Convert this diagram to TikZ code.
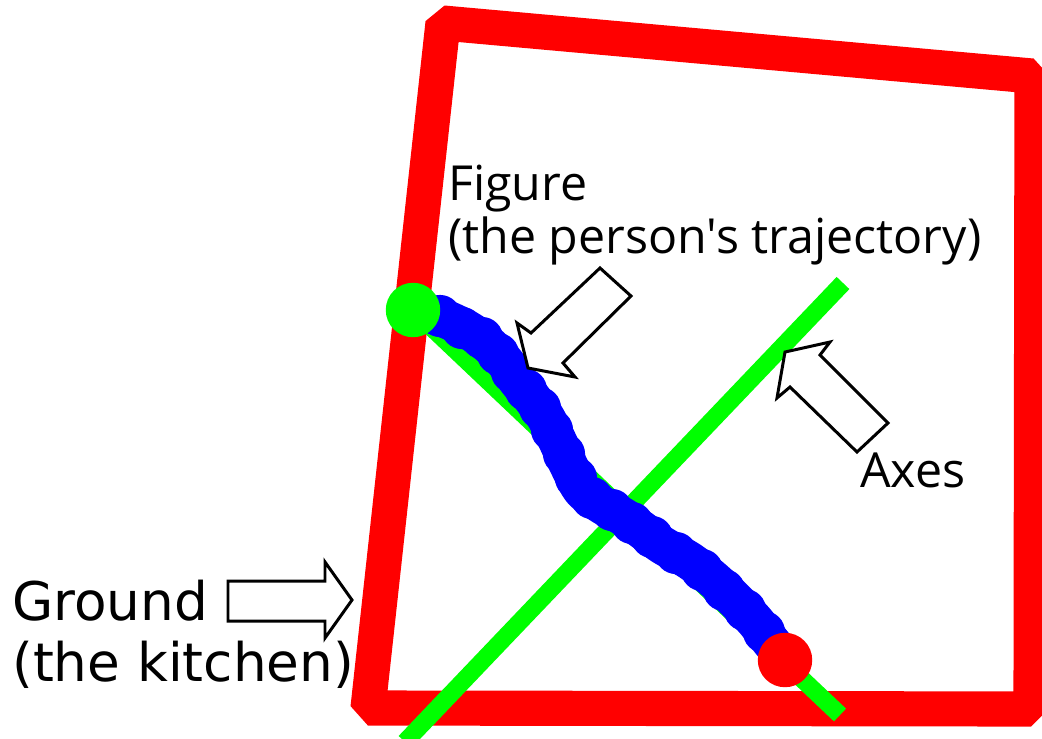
\documentclass[tikz,border=0pt]{standalone}
\usepackage{fontspec}
\newfontfamily\opensans{Open Sans}
\newfontfamily\dejavu{DejaVu Sans}
\usetikzlibrary{positioning}
\tikzset{
  frame/.style={draw=red,line width=20pt,line join=bevel},
  axis/.style={draw=green,line width=10pt},
  traj/.style={draw=blue,line width=22pt,line cap=round,line join=round},
  dot/.style={circle,inner sep=0pt,minimum size=31pt},
  blk/.style={draw=black,fill=white,line width=1.7pt,line join=miter},
  lblf/.style={inner sep=0pt,anchor=base west,font=\opensans\fontsize{27.5}{32}\selectfont},
  lblg/.style={inner sep=0pt,anchor=base west,font=\dejavu\fontsize{30.3}{35}\selectfont},
}

\begin{document}
\begin{tikzpicture}[x=0.02cm,y=-0.02cm]
  \useasboundingbox (0,0) rectangle (1042,738);
  % ground
  \draw[frame] (443,23) -- (1032,76) -- (1031,709) -- (368,708) -- cycle;
  % axes
  \coordinate (a1s) at (405,742);
  \coordinate (a1e) at (843,283);
  \coordinate (a2s) at (413,310);
  \coordinate (a2e) at (840,715);
  \draw[axis] (a1s) -- (a1e);
  \draw[axis] (a2s) -- (a2e);
  % figure
  \draw[traj] plot[smooth] coordinates {(425,312) (448,320) (470,331) (490,346)
    (505,362) (517,380) (532,398) (546,418) (558,442) (569,466) (582,490)
    (602,505) (622,516) (642,530) (662,545) (690,561) (714,580) (735,600)
    (755,621) (772,643) (785,658)};
  \foreach \p in {(440,316),(462,328),(482,338),(498,354),(512,372),(526,390),
    (540,408),(552,430),(564,454),(576,478),(592,498),(612,510),(632,523),
    (652,537),(676,553),(702,570),(724,590),(745,610),(764,632)}
    \fill[blue] \p circle (12pt);
  \node[dot,fill=green] (gdot) at (a2s) {};
  \node[dot,fill=red] (rdot) at (785,660) {};
  % block arrows
  \draw[blk] (228,581) -- (325,581) -- (325,562) -- (352,600) -- (325,638)
    -- (325,621) -- (228,621) -- cycle;
  \draw[blk] (600,268) -- (531,333) -- (517,323) -- (528,368) -- (575,377)
    -- (563,363) -- (631,296) -- cycle;
  \draw[blk] (785,352) -- (830,342) -- (820,355) -- (888,423) -- (857,452)
    -- (790,387) -- (777,398) -- cycle;
  % labels
  \node[lblf] (fig) at (448,200) {Figure};
  \node[lblf] (fig2) at (448,253) {(the person's trajectory)};
  \node[lblf] (ax) at (860,487) {Axes};
  \node[lblg] (gr) at (12,620) {Ground};
  \node[lblg] (gr2) at (12,681) {(the kitchen)};
\end{tikzpicture}
\end{document}
